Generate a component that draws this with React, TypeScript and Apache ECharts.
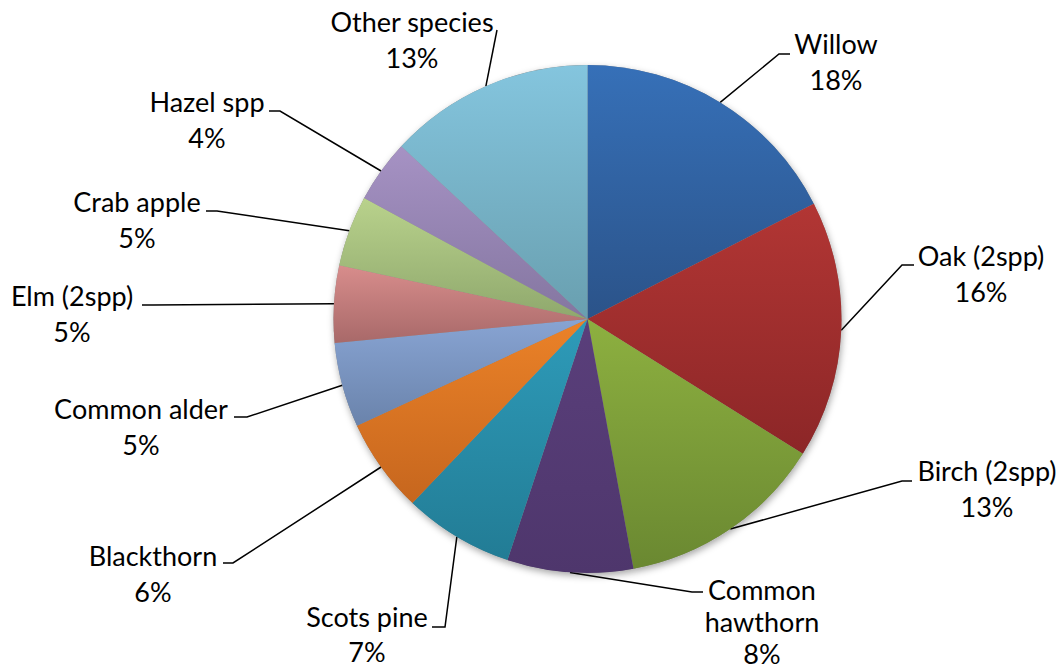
import React, { useEffect, useRef } from "react";
import * as echarts from "echarts";

// ---- data ----
const species = [
  "Willow",
  "Oak (2spp)",
  "Birch (2spp)",
  "Common hawthorn",
  "Scots pine",
  "Blackthorn",
  "Common alder",
  "Elm (2spp)",
  "Crab apple",
  "Hazel spp",
  "Other species",
];
const shares = [17.5, 16.4, 13.2, 8.0, 7.0, 6.0, 5.4, 4.9, 4.5, 4.0, 13.1];

// ---- styles ----
const topColors = ["#3670B8", "#B23634", "#8DB040", "#5A3F7B", "#2E9BB9", "#EB8228", "#88A4D3", "#D88D8C", "#B9D28C", "#A692C4", "#84C5DE"];
const bottomColors = ["#2B5389", "#8C2627", "#6A8831", "#4E366C", "#227C95", "#C6661E", "#6A83AB", "#A86969", "#8FA86D", "#8476A0", "#699FAF"];

// label layout: text centre x, first line centre y, leader end point, elbow length, line height
const labelLayouts = [
  { cx: 836, y1: 43, ex: 790, ey: 54, elbow: -11, wrap: false, lh: 36 },
  { cx: 981, y1: 255, ex: 914, ey: 265, elbow: -12, wrap: false, lh: 36 },
  { cx: 987, y1: 470, ex: 912, ey: 481, elbow: -10, wrap: false, lh: 36 },
  { cx: 762, y1: 589, ex: 703, ey: 592, elbow: -11, wrap: true, lh: 32 },
  { cx: 367, y1: 616, ex: 432, ey: 627, elbow: 13, wrap: false, lh: 35 },
  { cx: 153, y1: 555, ex: 223, ey: 563, elbow: 10, wrap: false, lh: 36 },
  { cx: 141, y1: 408, ex: 234, ey: 417, elbow: 13, wrap: false, lh: 36 },
  { cx: 72, y1: 295, ex: 142, ey: 305, elbow: 11, wrap: false, lh: 36 },
  { cx: 137, y1: 201, ex: 206, ey: 211, elbow: 11, wrap: false, lh: 36 },
  { cx: 207, y1: 101, ex: 269, ey: 111, elbow: 11, wrap: false, lh: 36 },
  { cx: 412, y1: 21, ex: 497, ey: 30, elbow: 0, wrap: false, lh: 36 },
];

const FONT = "Lato, 'Open Sans', sans-serif";

export default function App() {
  const ref = useRef<HTMLDivElement>(null);

  useEffect(() => {
    if (!ref.current) return;
    const chart = echarts.init(ref.current, undefined, { renderer: "svg" });

    const mainData = species.map((name, i) => ({
      name,
      value: shares[i],
      label: { lineHeight: labelLayouts[i].lh },
      itemStyle: {
        color: {
          type: "linear",
          x: 0,
          y: 0,
          x2: 0,
          y2: 1,
          colorStops: [
            { offset: 0, color: topColors[i] },
            { offset: 1, color: bottomColors[i] },
          ],
        },
      },
    }));

    const shadowData = species.map((name, i) => ({ name, value: shares[i] }));

    chart.setOption({
      animation: false,
      backgroundColor: "#ffffff",
      series: [
        {
          type: "pie",
          silent: true,
          center: [587.5, 319],
          radius: 254,
          startAngle: 90,
          clockwise: true,
          label: { show: false },
          labelLine: { show: false },
          z: 1,
          itemStyle: {
            color: "#888",
            shadowBlur: 7,
            shadowColor: "rgba(0,0,0,0.35)",
            shadowOffsetX: 1,
            shadowOffsetY: 3,
          },
          data: shadowData,
        },
        {
          type: "pie",
          center: [587.5, 319],
          radius: 254,
          startAngle: 90,
          clockwise: true,
          z: 2,
          avoidLabelOverlap: false,
          itemStyle: { borderWidth: 0 },
          label: {
            show: true,
            position: "outside",
            color: "#000",
            fontFamily: FONT,
            fontSize: 27,
            lineHeight: 36,
            formatter: (p: any) => {
              const lay = labelLayouts[p.dataIndex];
              const name = lay.wrap ? String(p.name).replace(" ", "\n") : p.name;
              return name + "\n" + Math.round(p.percent) + "%";
            },
          },
          labelLine: {
            show: true,
            length: 4,
            length2: 4,
            smooth: false,
            lineStyle: { color: "#000", width: 1.5 },
          },
          labelLayout: (params: any) => {
            const lay = labelLayouts[params.dataIndex];
            const start = params.labelLinePoints ? params.labelLinePoints[0] : [lay.ex, lay.ey];
            return {
              x: lay.cx,
              y: lay.y1 - lay.lh / 2,
              align: "center",
              verticalAlign: "top",
              labelLinePoints: [
                start,
                [lay.ex + lay.elbow, lay.ey],
                [lay.ex, lay.ey],
              ],
            };
          },
          data: mainData,
        },
      ],
    });

    return () => chart.dispose();
  }, []);

  return (
    <div
      ref={ref}
      style={{ position: "fixed", left: 0, top: 0, width: 1060, height: 670 }}
    />
  );
}
